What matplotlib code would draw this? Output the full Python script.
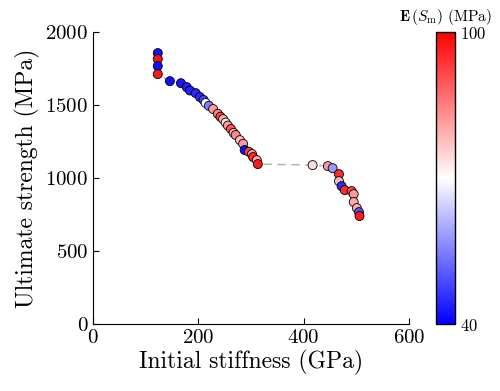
import numpy as np
import matplotlib
matplotlib.use("Agg")
import matplotlib.pyplot as plt

plt.rcParams['font.family'] = 'serif'
plt.rcParams['font.serif'] = ['cmr10', 'DejaVu Serif']
plt.rcParams['mathtext.fontset'] = 'cm'
plt.rcParams['axes.formatter.use_mathtext'] = True

# initial stiffness (GPa), ultimate strength (MPa), E(S_m) (MPa)
stiffness = [123, 123, 123, 123, 146, 167, 178, 184, 195, 203, 210, 214, 220,
             228, 237, 242, 247, 252, 256, 262, 267, 271, 279, 285, 288, 296,
             302, 304, 311, 313,
             417, 446, 455, 467, 467, 472, 478, 491, 495, 495, 501, 505, 506]
strength = [1856, 1815, 1767, 1712, 1664, 1650, 1623, 1600, 1582, 1555, 1535,
            1514, 1495, 1473, 1440, 1420, 1404, 1380, 1360, 1336, 1310, 1295,
            1260, 1235, 1192, 1180, 1165, 1144, 1123, 1096,
            1089, 1082, 1068, 1027, 979, 945, 918, 911, 890, 836, 795, 767, 740]
e_sm = [42, 98, 42, 97, 42, 43, 44, 44, 45, 45, 48, 70, 55, 82, 85, 92, 80,
        72, 82, 90, 80, 84, 78, 82, 42, 92, 82, 95, 80, 97,
        74, 82, 58, 95, 78, 45, 95, 92, 82, 80, 80, 50, 97]

fig = plt.figure(figsize=(5, 3.91), dpi=100)
ax = fig.add_axes([0.186, 0.171, 0.632, 0.747])
cax = fig.add_axes([0.872, 0.171, 0.038, 0.747])

ax.plot(stiffness, strength, color='#b0b0b0', lw=1, zorder=1,
        linestyle=(0, (6, 4)))
sc = ax.scatter(stiffness, strength, c=e_sm, cmap='bwr', vmin=40, vmax=100,
                s=42, edgecolors='black', linewidths=0.6, zorder=2)

ax.set_xlim(0, 600)
ax.set_ylim(0, 2000)
ax.set_xticks([0, 200, 400, 600])
ax.set_yticks([0, 500, 1000, 1500, 2000])
ax.spines['top'].set_visible(False)
ax.spines['right'].set_visible(False)
ax.tick_params(direction='in', labelsize=15, length=4)
ax.set_xlabel('Initial stiffness (GPa)', fontsize=17, labelpad=2)
ax.set_ylabel('Ultimate strength (MPa)', fontsize=17, labelpad=4)

cb = fig.colorbar(sc, cax=cax, ticks=[40, 100])
cb.ax.tick_params(length=0, labelsize=12)
cb.outline.set_linewidth(1)
cax.set_title(r'$\mathbf{E}\,(S_\mathrm{m})$ (MPa)', fontsize=11, pad=8)

fig.savefig('out.png', dpi=100)
